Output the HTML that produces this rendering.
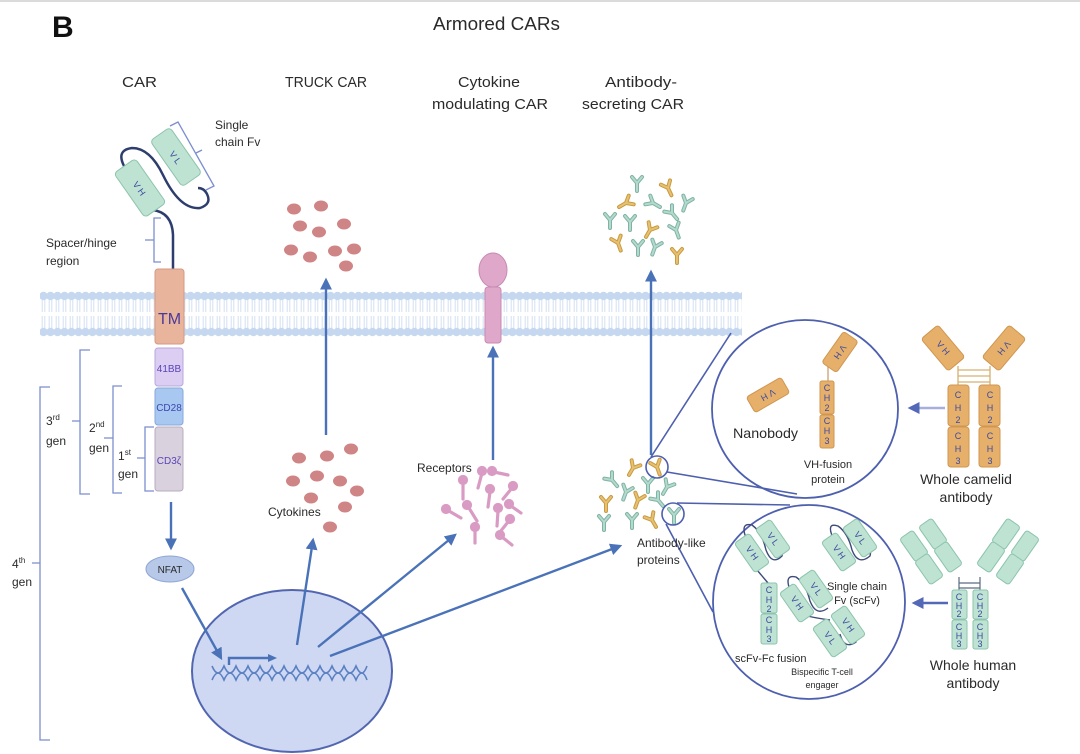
<!DOCTYPE html>
<html><head><meta charset="utf-8"><style>
html,body{margin:0;padding:0;background:#fff}
svg{display:block}
text{font-family:"Liberation Sans",sans-serif;fill:#2a2a2a}
.d{font-size:9px;fill:#3a4aa0;text-anchor:middle}
</style></head><body>
<svg width="1080" height="754" viewBox="0 0 1080 754" xmlns="http://www.w3.org/2000/svg">
<defs>
<pattern id="bead" x="40" y="0" width="7" height="754" patternUnits="userSpaceOnUse">
<circle cx="3.5" cy="296" r="4.2" fill="#c6d8ef"/>
<circle cx="3.5" cy="332" r="4.2" fill="#c6d8ef"/>
<line x1="2.2" y1="300" x2="2.2" y2="312" stroke="#d3e0f2" stroke-width="1"/>
<line x1="4.8" y1="300" x2="4.8" y2="312" stroke="#d3e0f2" stroke-width="1"/>
<line x1="2.2" y1="316" x2="2.2" y2="328" stroke="#d3e0f2" stroke-width="1"/>
<line x1="4.8" y1="316" x2="4.8" y2="328" stroke="#d3e0f2" stroke-width="1"/>
</pattern>
<marker id="ah" viewBox="0 0 10 10" refX="8" refY="5" markerWidth="5" markerHeight="5" orient="auto"><path d="M0,0 L10,5 L0,10 z" fill="#4a72b8"/></marker>
<marker id="ah2" viewBox="0 0 10 10" refX="8" refY="5" markerWidth="5" markerHeight="5" orient="auto"><path d="M0,0 L10,5 L0,10 z" fill="#5468b8"/></marker>
<g id="yt"><path d="M0,8 L0,0 L-5,-6 M0,0 L5,-6" fill="none" stroke="#7fb3a4" stroke-width="4" stroke-linecap="round" stroke-linejoin="round"/><path d="M0,8 L0,0 L-5,-6 M0,0 L5,-6" fill="none" stroke="#b3dacd" stroke-width="2" stroke-linecap="round" stroke-linejoin="round"/></g>
<g id="yg"><path d="M0,8 L0,0 L-5,-6 M0,0 L5,-6" fill="none" stroke="#c99a3e" stroke-width="4" stroke-linecap="round" stroke-linejoin="round"/><path d="M0,8 L0,0 L-5,-6 M0,0 L5,-6" fill="none" stroke="#e6c173" stroke-width="2" stroke-linecap="round" stroke-linejoin="round"/></g>
</defs>
<line x1="0" y1="1" x2="1080" y2="1" stroke="#cfcfcf" stroke-width="1.5"/>
<text x="52" y="37" font-size="30" font-weight="bold" style="fill:#111">B</text>
<text x="433" y="30" font-size="18" textLength="127" lengthAdjust="spacingAndGlyphs">Armored CARs</text>
<text x="122" y="87" font-size="15" textLength="35" lengthAdjust="spacingAndGlyphs">CAR</text>
<text x="285" y="87" font-size="15" textLength="82" lengthAdjust="spacingAndGlyphs">TRUCK CAR</text>
<text x="458" y="87" font-size="15" textLength="62" lengthAdjust="spacingAndGlyphs">Cytokine</text>
<text x="432" y="109" font-size="15" textLength="116" lengthAdjust="spacingAndGlyphs">modulating CAR</text>
<text x="605" y="87" font-size="15" textLength="72" lengthAdjust="spacingAndGlyphs">Antibody-</text>
<text x="582" y="109" font-size="15" textLength="102" lengthAdjust="spacingAndGlyphs">secreting CAR</text>

<!-- membrane -->
<rect x="40" y="290" width="702" height="48" fill="url(#bead)"/>

<!-- CAR -->
<path d="M173,269 L173,235 Q172,212 152,210" fill="none" stroke="#2d3e6e" stroke-width="2.5"/>
<path d="M124,166 Q116,150 132,148 Q150,148 163,175 Q180,210 200,208 Q212,204 207,194 Q204,188 198,188" fill="none" stroke="#2d3e6e" stroke-width="2.5"/>
<g transform="translate(140,188) rotate(-35)"><rect x="-13" y="-27" width="26" height="54" rx="4" fill="#bfe3d2" stroke="#8cc4ad"/><text class="d" x="0" y="4" font-size="12" transform="rotate(90)">V H</text></g>
<g transform="translate(176,157) rotate(-35)"><rect x="-12" y="-28" width="24" height="56" rx="4" fill="#bfe3d2" stroke="#8cc4ad"/><text class="d" x="0" y="4" font-size="12" transform="rotate(90)">V L</text></g>
<path d="M170,126 L178,122 L214,186 L206,190 M196,153 L202,150" fill="none" stroke="#7a8ed0" stroke-width="1.3"/>
<text x="215" y="129" font-size="12">Single</text>
<text x="215" y="146" font-size="12">chain Fv</text>
<path d="M161,218 L154,218 L154,262 L161,262 M154,240 L145,240" fill="none" stroke="#7a8ed0" stroke-width="1.3"/>
<text x="46" y="247" font-size="12">Spacer/hinge</text>
<text x="46" y="265" font-size="12">region</text>
<rect x="155" y="269" width="29" height="75" rx="3" fill="#e9b49c" stroke="#d49a84"/>
<text x="169.5" y="324" font-size="16" text-anchor="middle" style="fill:#4b3a9a">TM</text>
<rect x="155" y="348" width="28" height="38" rx="3" fill="#dccdf3" stroke="#b9a8de"/>
<text x="169" y="372" font-size="10" text-anchor="middle" style="fill:#5a44b8">41BB</text>
<rect x="155" y="388" width="28" height="37" rx="3" fill="#a9c8f1" stroke="#86a8da"/>
<text x="169" y="411" font-size="10" text-anchor="middle" style="fill:#3a48b0">CD28</text>
<rect x="155" y="427" width="28" height="64" rx="3" fill="#d9d1dd" stroke="#b8adc0"/>
<text x="169" y="464" font-size="10" text-anchor="middle" style="fill:#5a44b8">CD3ζ</text>
<!-- brackets -->
<g fill="none" stroke="#7a8ed0" stroke-width="1.3">
<path d="M50,387 L40,387 L40,740 L50,740 M40,563 L32,563"/>
<path d="M90,350 L80,350 L80,494 L90,494 M80,421 L72,421"/>
<path d="M122,386 L113,386 L113,493 L122,493 M113,438 L104,438"/>
<path d="M154,427 L145,427 L145,491 L154,491 M145,458 L137,458"/>
</g>
<text x="46" y="425" font-size="12">3<tspan font-size="8" dy="-5">rd</tspan></text><text x="46" y="445" font-size="12">gen</text>
<text x="89" y="432" font-size="12">2<tspan font-size="8" dy="-5">nd</tspan></text><text x="89" y="452" font-size="12">gen</text>
<text x="118" y="460" font-size="12">1<tspan font-size="8" dy="-5">st</tspan></text><text x="118" y="478" font-size="12">gen</text>
<text x="12" y="568" font-size="12">4<tspan font-size="8" dy="-5">th</tspan></text><text x="12" y="586" font-size="12">gen</text>

<!-- nucleus -->
<ellipse cx="292" cy="671" rx="100" ry="81" fill="#cfd8f2" stroke="#5266b0" stroke-width="2"/>
<g stroke="#5a80c4" stroke-width="1.6" fill="none">
<path d="M212,666 Q218,680 224,666 Q230,680 236,666 Q242,680 248,666 Q254,680 260,666 Q266,680 272,666 Q278,680 284,666 Q290,680 296,666 Q302,680 308,666 Q314,680 320,666 Q326,680 332,666 Q338,680 344,666 Q350,680 356,666 Q362,680 367,666"/>
<path d="M212,680 Q218,666 224,680 Q230,666 236,680 Q242,666 248,680 Q254,666 260,680 Q266,666 272,680 Q278,666 284,680 Q290,666 296,680 Q302,666 308,680 Q314,666 320,680 Q326,666 332,680 Q338,666 344,680 Q350,666 356,680 Q362,666 367,680"/>
</g>

<!-- arrows -->
<g stroke="#4a72b8" stroke-width="2.4" fill="none">
<line x1="171" y1="502" x2="171" y2="548" marker-end="url(#ah)"/>
<line x1="182" y1="588" x2="221" y2="658" marker-end="url(#ah)"/>
<line x1="326" y1="435" x2="326" y2="280" marker-end="url(#ah)"/>
<line x1="493" y1="460" x2="493" y2="348" marker-end="url(#ah)"/>
<line x1="651" y1="455" x2="651" y2="272" marker-end="url(#ah)"/>
<line x1="297" y1="645" x2="313" y2="540" marker-end="url(#ah)"/>
<line x1="318" y1="647" x2="455" y2="535" marker-end="url(#ah)"/>
<line x1="330" y1="656" x2="620" y2="546" marker-end="url(#ah)"/>
<path d="M229,665 L229,658 L272,658" />
<path d="M268,654 L277,658 L268,662" fill="#4a72b8" stroke="none"/>
</g>
<ellipse cx="170" cy="569" rx="24" ry="13" fill="#b7c8e8" stroke="#8fa6d6"/>
<text x="170" y="573" font-size="10" text-anchor="middle">NFAT</text>

<!-- cytokines -->
<g fill="#cf8585">
<ellipse cx="294" cy="209" rx="7" ry="5.5"/><ellipse cx="321" cy="206" rx="7" ry="5.5"/><ellipse cx="300" cy="226" rx="7" ry="5.5"/><ellipse cx="319" cy="232" rx="7" ry="5.5"/><ellipse cx="344" cy="224" rx="7" ry="5.5"/><ellipse cx="291" cy="250" rx="7" ry="5.5"/><ellipse cx="310" cy="257" rx="7" ry="5.5"/><ellipse cx="335" cy="251" rx="7" ry="5.5"/><ellipse cx="354" cy="249" rx="7" ry="5.5"/><ellipse cx="346" cy="266" rx="7" ry="5.5"/>
<ellipse cx="299" cy="458" rx="7" ry="5.5"/><ellipse cx="327" cy="456" rx="7" ry="5.5"/><ellipse cx="351" cy="449" rx="7" ry="5.5"/><ellipse cx="293" cy="481" rx="7" ry="5.5"/><ellipse cx="317" cy="476" rx="7" ry="5.5"/><ellipse cx="340" cy="481" rx="7" ry="5.5"/><ellipse cx="357" cy="491" rx="7" ry="5.5"/><ellipse cx="311" cy="498" rx="7" ry="5.5"/><ellipse cx="345" cy="507" rx="7" ry="5.5"/><ellipse cx="330" cy="527" rx="7" ry="5.5"/>
</g>
<text x="268" y="516" font-size="12">Cytokines</text>

<!-- receptor -->
<ellipse cx="493" cy="270" rx="14" ry="17" fill="#dfa8cb" stroke="#c88ab2"/>
<rect x="485" y="287" width="16" height="56" rx="3" fill="#dfa8cb" stroke="#c88ab2"/>
<text x="417" y="472" font-size="12">Receptors</text>
<g stroke="#d99bc3" stroke-width="3.2" stroke-linecap="round" fill="#d99bc3">
<line x1="482" y1="473" x2="478" y2="488"/><circle cx="482" cy="471" r="3.5"/>
<line x1="494" y1="472" x2="508" y2="475"/><circle cx="492" cy="471" r="3.5"/>
<line x1="463" y1="483" x2="463" y2="499"/><circle cx="463" cy="480" r="3.5"/>
<line x1="490" y1="492" x2="488" y2="507"/><circle cx="490" cy="489" r="3.5"/>
<line x1="512" y1="488" x2="503" y2="499"/><circle cx="513" cy="486" r="3.5"/>
<line x1="511" y1="506" x2="521" y2="513"/><circle cx="509" cy="504" r="3.5"/>
<line x1="498" y1="511" x2="497" y2="526"/><circle cx="498" cy="508" r="3.5"/>
<line x1="469" y1="508" x2="477" y2="521"/><circle cx="467" cy="505" r="3.5"/>
<line x1="449" y1="511" x2="461" y2="518"/><circle cx="446" cy="509" r="3.5"/>
<line x1="508" y1="522" x2="500" y2="532"/><circle cx="510" cy="519" r="3.5"/>
<line x1="475" y1="530" x2="475" y2="543"/><circle cx="475" cy="527" r="3.5"/>
<line x1="502" y1="537" x2="512" y2="545"/><circle cx="500" cy="535" r="3.5"/>
</g>

<!-- antibodies top -->
<use href="#yt" x="637" y="183"/><use href="#yg" transform="translate(668,188) rotate(-25)"/><use href="#yg" transform="translate(626,203) rotate(60)"/><use href="#yt" transform="translate(653,203) rotate(-60)"/><use href="#yt" transform="translate(686,203) rotate(20)"/><use href="#yt" transform="translate(672,213) rotate(-40)"/><use href="#yt" x="610" y="220"/><use href="#yt" x="630" y="222"/><use href="#yg" transform="translate(650,230) rotate(30)"/><use href="#yt" transform="translate(676,230) rotate(-20)"/><use href="#yg" transform="translate(618,243) rotate(-20)"/><use href="#yt" x="638" y="247"/><use href="#yt" transform="translate(655,247) rotate(20)"/><use href="#yg" x="677" y="255"/>
<!-- antibodies bottom -->
<use href="#yg" transform="translate(633,468) rotate(30)"/><use href="#yg" transform="translate(657,467) rotate(-20)"/><use href="#yt" transform="translate(612,480) rotate(-40)"/><use href="#yt" transform="translate(626,492) rotate(20)"/><use href="#yt" x="648" y="484"/><use href="#yt" transform="translate(667,487) rotate(30)"/><use href="#yg" x="606" y="503"/><use href="#yg" transform="translate(638,500) rotate(20)"/><use href="#yt" transform="translate(658,500) rotate(-40)"/><use href="#yt" x="604" y="522"/><use href="#yt" x="632" y="520"/><use href="#yg" transform="translate(652,520) rotate(-30)"/><use href="#yt" x="674" y="515"/>
<g fill="none" stroke="#4d5fae" stroke-width="1.6">
<circle cx="657" cy="467" r="11"/><circle cx="673" cy="514" r="11"/>
<line x1="651" y1="457" x2="731" y2="333"/><line x1="667" y1="472" x2="797" y2="494"/>
<line x1="677" y1="503" x2="790" y2="505"/><line x1="666" y1="524" x2="713" y2="612"/>
<ellipse cx="805" cy="409" rx="93" ry="89" stroke-width="1.8"/>
<ellipse cx="809" cy="602" rx="96" ry="97" stroke-width="1.8"/>
</g>
<text x="637" y="547" font-size="12">Antibody-like</text>
<text x="637" y="564" font-size="12">proteins</text>

<!-- nanobody / VH fusion -->
<g transform="translate(768,395) rotate(-30)"><rect x="-20" y="-9" width="40" height="18" rx="3" fill="#e7b06a" stroke="#cf9650"/><text class="d" x="0" y="3" font-size="10" transform="rotate(180)">V H</text></g>
<text x="733" y="438" font-size="14" textLength="65" lengthAdjust="spacingAndGlyphs">Nanobody</text>
<line x1="828" y1="366" x2="828" y2="381" stroke="#caa070" stroke-width="1.3"/>
<g transform="translate(840,352) rotate(35)"><rect x="-9" y="-19" width="18" height="38" rx="3" fill="#e7b06a" stroke="#cf9650"/><text class="d" x="0" y="3" font-size="9" transform="rotate(90)">V H</text></g>
<rect x="820" y="381" width="14" height="33" rx="2" fill="#e7b06a" stroke="#cf9650"/>
<rect x="820" y="415" width="14" height="33" rx="2" fill="#e7b06a" stroke="#cf9650"/>
<g font-size="8" style="fill:#6a3aa0"><text x="827" y="391" class="d">C</text><text x="827" y="401" class="d">H</text><text x="827" y="411" class="d">2</text><text x="827" y="424" class="d">C</text><text x="827" y="434" class="d">H</text><text x="827" y="444" class="d">3</text></g>
<text x="828" y="468" font-size="11" text-anchor="middle">VH-fusion</text>
<text x="828" y="483" font-size="11" text-anchor="middle">protein</text>

<!-- camelid -->
<g stroke="#d6b070" stroke-width="1.3" fill="none"><line x1="958" y1="366" x2="958" y2="385"/><line x1="990" y1="366" x2="990" y2="385"/><line x1="958" y1="370" x2="990" y2="370"/><line x1="958" y1="376" x2="990" y2="376"/><line x1="958" y1="382" x2="990" y2="382"/></g>
<g transform="translate(943,348) rotate(-40)"><rect x="-11" y="-21" width="22" height="42" rx="3" fill="#e7b06a" stroke="#cf9650"/><text class="d" x="0" y="3" font-size="9" transform="rotate(90)">V H</text></g>
<g transform="translate(1004,348) rotate(40)"><rect x="-11" y="-21" width="22" height="42" rx="3" fill="#e7b06a" stroke="#cf9650"/><text class="d" x="0" y="3" font-size="9" transform="rotate(90)">V H</text></g>
<rect x="948" y="385" width="21" height="41" rx="3" fill="#e7b06a" stroke="#cf9650"/><rect x="948" y="427" width="21" height="40" rx="3" fill="#e7b06a" stroke="#cf9650"/>
<rect x="979" y="385" width="21" height="41" rx="3" fill="#e7b06a" stroke="#cf9650"/><rect x="979" y="427" width="21" height="40" rx="3" fill="#e7b06a" stroke="#cf9650"/>
<g font-size="9"><text class="d" x="958" y="398">C</text><text class="d" x="958" y="411">H</text><text class="d" x="958" y="423">2</text><text class="d" x="958" y="439">C</text><text class="d" x="958" y="452">H</text><text class="d" x="958" y="464">3</text>
<text class="d" x="990" y="398">C</text><text class="d" x="990" y="411">H</text><text class="d" x="990" y="423">2</text><text class="d" x="990" y="439">C</text><text class="d" x="990" y="452">H</text><text class="d" x="990" y="464">3</text></g>
<line x1="945" y1="408" x2="910" y2="408" stroke="#a7b0dc" stroke-width="2.4" marker-end="url(#ah2)"/>
<text x="966" y="484" font-size="14" text-anchor="middle">Whole camelid</text>
<text x="966" y="502" font-size="14" text-anchor="middle">antibody</text>

<!-- lower circle contents -->
<g fill="none" stroke="#3d4a7a" stroke-width="1.4">
<path d="M746,538 Q740,522 752,525 Q762,532 766,550 Q772,566 782,556 Q784,548 778,546"/>
<line x1="757" y1="570" x2="768" y2="583"/>
<path d="M833,538 Q826,522 838,526 Q848,533 852,550 Q858,566 870,556 Q872,548 866,546"/>
<path d="M790,590 Q784,574 796,577 Q806,584 810,601 Q816,617 828,608 M803,615 Q815,618 830,620 M840,634 Q844,650 856,642 Q858,632 852,630"/>
</g>
<g fill="#bfe3d2" stroke="#8cc4ad">
<g transform="translate(752,553) rotate(-35)"><rect x="-9" y="-18" width="18" height="36" rx="3"/></g>
<g transform="translate(773,539) rotate(-35)"><rect x="-9" y="-18" width="18" height="36" rx="3"/></g>
<rect x="761" y="583" width="16" height="30" rx="2"/><rect x="761" y="614" width="16" height="30" rx="2"/>
<g transform="translate(839,552) rotate(-35)"><rect x="-9" y="-18" width="18" height="36" rx="3"/></g>
<g transform="translate(860,538) rotate(-35)"><rect x="-9" y="-18" width="18" height="36" rx="3"/></g>
<g transform="translate(797,603) rotate(-35)"><rect x="-9" y="-18" width="18" height="36" rx="3"/></g>
<g transform="translate(816,589) rotate(-35)"><rect x="-9" y="-18" width="18" height="36" rx="3"/></g>
<g transform="translate(848,625) rotate(-35)"><rect x="-9" y="-18" width="18" height="36" rx="3"/></g>
<g transform="translate(830,638) rotate(-35)"><rect x="-9" y="-18" width="18" height="36" rx="3"/></g>
</g>
<g font-size="8">
<text class="d" x="752" y="556" transform="rotate(55 752 553)">V H</text><text class="d" x="773" y="542" transform="rotate(55 773 539)">V L</text>
<text class="d" x="839" y="555" transform="rotate(55 839 552)">V H</text><text class="d" x="860" y="541" transform="rotate(55 860 538)">V L</text>
<text class="d" x="797" y="606" transform="rotate(55 797 603)">V H</text><text class="d" x="816" y="592" transform="rotate(55 816 589)">V L</text>
<text class="d" x="848" y="628" transform="rotate(55 848 625)">V H</text><text class="d" x="830" y="641" transform="rotate(55 830 638)">V L</text>
<text class="d" x="769" y="593">C</text><text class="d" x="769" y="603">H</text><text class="d" x="769" y="612">2</text><text class="d" x="769" y="623">C</text><text class="d" x="769" y="633">H</text><text class="d" x="769" y="642">3</text>
</g>
<text x="735" y="662" font-size="11">scFv-Fc fusion</text>
<text x="857" y="590" font-size="11" text-anchor="middle">Single chain</text>
<text x="857" y="604" font-size="11" text-anchor="middle">Fv (scFv)</text>
<text x="822" y="675" font-size="9" text-anchor="middle">Bispecific T-cell</text>
<text x="822" y="688" font-size="9" text-anchor="middle">engager</text>

<!-- human antibody -->
<g stroke="#5a6a80" stroke-width="1.2"><line x1="959" y1="583" x2="980" y2="583"/><line x1="959" y1="588" x2="980" y2="588"/><line x1="959" y1="577" x2="959" y2="590"/><line x1="980" y1="577" x2="980" y2="590"/></g>
<g fill="#bfe3d2" stroke="#8cc4ad">
<rect x="952" y="590" width="15" height="29" rx="2"/><rect x="952" y="620" width="15" height="29" rx="2"/>
<rect x="973" y="590" width="15" height="29" rx="2"/><rect x="973" y="620" width="15" height="29" rx="2"/>
<g transform="translate(933,534) rotate(-35)"><rect x="-8" y="-14" width="16" height="28" rx="3"/></g>
<g transform="translate(948,557) rotate(-35)"><rect x="-8" y="-14" width="16" height="28" rx="3"/></g>
<g transform="translate(914,546) rotate(-35)"><rect x="-8" y="-14" width="16" height="28" rx="3"/></g>
<g transform="translate(929,569) rotate(-35)"><rect x="-8" y="-14" width="16" height="28" rx="3"/></g>
<g transform="translate(1006,534) rotate(35)"><rect x="-8" y="-14" width="16" height="28" rx="3"/></g>
<g transform="translate(991,557) rotate(35)"><rect x="-8" y="-14" width="16" height="28" rx="3"/></g>
<g transform="translate(1025,546) rotate(35)"><rect x="-8" y="-14" width="16" height="28" rx="3"/></g>
<g transform="translate(1010,569) rotate(35)"><rect x="-8" y="-14" width="16" height="28" rx="3"/></g>
</g>
<g font-size="8">
<text class="d" x="959" y="600">C</text><text class="d" x="959" y="609">H</text><text class="d" x="959" y="617">2</text><text class="d" x="959" y="630">C</text><text class="d" x="959" y="639">H</text><text class="d" x="959" y="647">3</text>
<text class="d" x="980" y="600">C</text><text class="d" x="980" y="609">H</text><text class="d" x="980" y="617">2</text><text class="d" x="980" y="630">C</text><text class="d" x="980" y="639">H</text><text class="d" x="980" y="647">3</text>
</g>
<line x1="948" y1="603" x2="914" y2="603" stroke="#5468b8" stroke-width="2.4" marker-end="url(#ah2)"/>
<text x="973" y="670" font-size="14" text-anchor="middle">Whole human</text>
<text x="973" y="688" font-size="14" text-anchor="middle">antibody</text>
</svg>
</body></html>
